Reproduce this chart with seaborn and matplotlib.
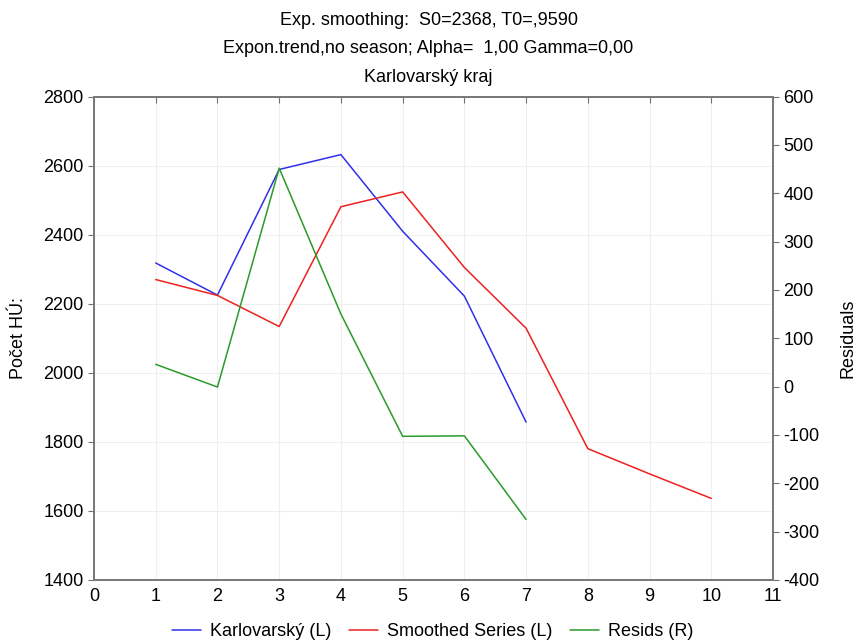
import numpy as np
import pandas as pd
import matplotlib
matplotlib.use("Agg")
import matplotlib.pyplot as plt
import seaborn as sns

# values
x_obs = [1, 2, 3, 4, 5, 6, 7]
karlovarsky = [2318, 2225, 2589, 2632, 2410, 2222, 1857]
x_smooth = [1, 2, 3, 4, 5, 6, 7, 8, 9, 10]
smoothed = [2270, 2224, 2134, 2481, 2524, 2305, 2129, 1780, 1707, 1636]
resids = [46, -1, 452, 150, -103, -102, -275]

sns.set_style("white")
plt.rcParams['font.family'] = ['Liberation Sans', 'DejaVu Sans']
plt.rcParams['axes.unicode_minus'] = False
plt.rcParams['text.color'] = 'black'
plt.rcParams['axes.labelcolor'] = 'black'

fig = plt.figure(figsize=(8.57, 6.4), dpi=100)
ax = fig.add_axes([0.1097, 0.094, 0.7923, 0.755])
ax2 = ax.twinx()

df_obs = pd.DataFrame({"x": x_obs, "y": karlovarsky})
df_sm = pd.DataFrame({"x": x_smooth, "y": smoothed})
df_res = pd.DataFrame({"x": x_obs, "y": resids})

sns.lineplot(data=df_obs, x="x", y="y", ax=ax, color="#3030e8", lw=1.1,
             label="Karlovarský (L)", legend=False)
sns.lineplot(data=df_sm, x="x", y="y", ax=ax, color="#ee2020", lw=1.1,
             label="Smoothed Series (L)", legend=False)
sns.lineplot(data=df_res, x="x", y="y", ax=ax2, color="#2a9a2a", lw=1.1,
             label="Resids (R)", legend=False)

ax.set_xlim(0, 11)
ax.set_xticks(range(0, 12))
ax.set_ylim(1400, 2800)
ax.set_yticks(range(1400, 2801, 200))
ax2.set_ylim(-400, 600)
ax2.set_yticks(range(-400, 601, 100))

ax.grid(True, color="#efefef", lw=0.8)
ax.set_axisbelow(True)

ax.set_xlabel("")
ax.set_ylabel("Počet HÚ:", fontsize=13, labelpad=12, color="black")
ax2.set_ylabel("Residuals", fontsize=13, labelpad=14, color="black")

ax.tick_params(axis="x", direction="in", top=True, labelsize=13, length=4,
               color="#707070", labelcolor="black", pad=6)
ax.tick_params(axis="y", direction="out", labelsize=13, length=4,
               color="#707070", labelcolor="black")
ax2.tick_params(axis="y", direction="out", labelsize=13, length=4,
                color="#707070", labelcolor="black")

for a in (ax, ax2):
    for s in a.spines.values():
        s.set_color("#7a7a7a")
        s.set_linewidth(1.4)

fig.text(0.5, 0.968, "Exp. smoothing:  S0=2368, T0=,9590", ha="center",
         va="center", fontsize=13)
fig.text(0.5, 0.924, "Expon.trend,no season; Alpha=  1,00 Gamma=0,00", ha="center",
         va="center", fontsize=13)
fig.text(0.5, 0.879, "Karlovarský kraj", ha="center", va="center", fontsize=13)

h1, l1 = ax.get_legend_handles_labels()
h2, l2 = ax2.get_legend_handles_labels()
fig.legend(h1 + h2, l1 + l2, loc="center", bbox_to_anchor=(0.505, 0.013),
           ncol=3, frameon=False, fontsize=13, handlelength=1.6,
           handletextpad=0.5, columnspacing=1.0)

fig.savefig("out.png", dpi=100)
